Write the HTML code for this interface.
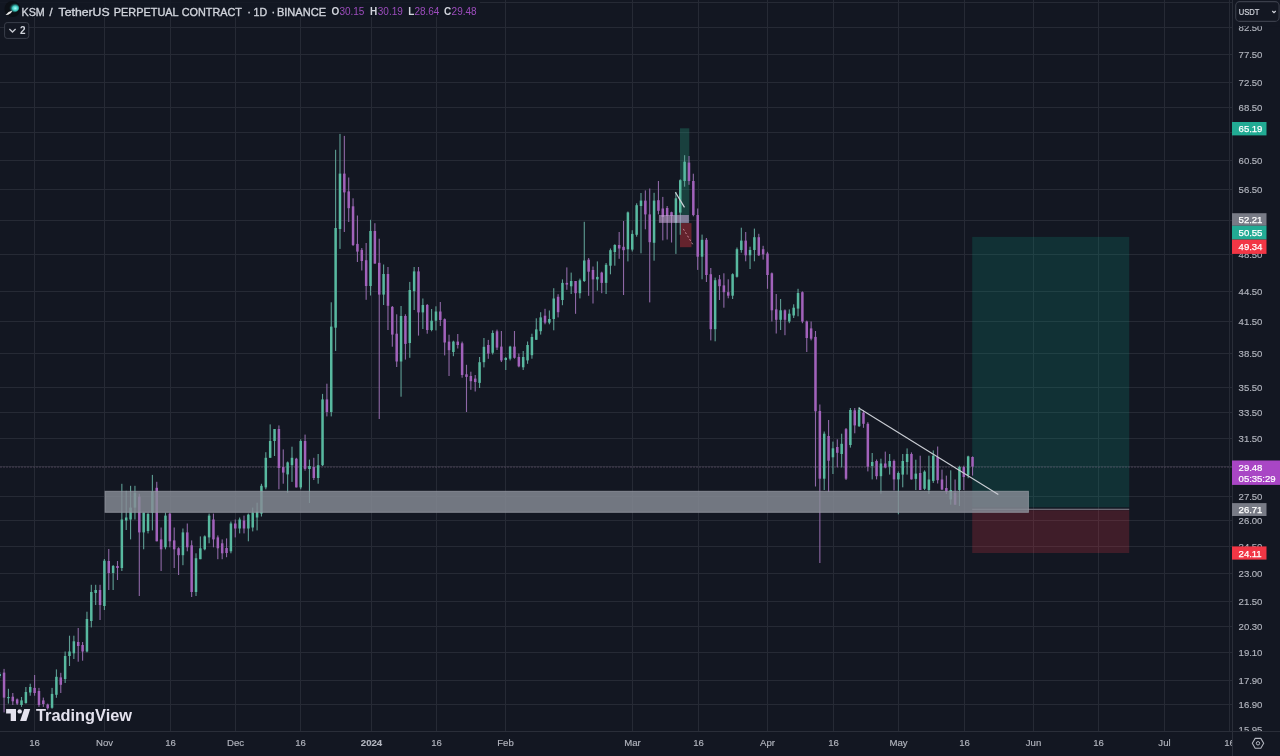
<!DOCTYPE html><html><head><meta charset="utf-8"><style>
html,body{margin:0;padding:0;background:#131722;width:1280px;height:756px;overflow:hidden}
svg{display:block}
text{font-family:"Liberation Sans",Arial,sans-serif}
</style></head><body>
<svg width="1280" height="756" viewBox="0 0 1280 756">
<rect width="1280" height="756" fill="#131722"/>
<g stroke="#262a35" stroke-width="1" shape-rendering="crispEdges">
<line x1="0" y1="2.5" x2="1232" y2="2.5"/>
<line x1="0" y1="27.5" x2="1232" y2="27.5"/>
<line x1="0" y1="54.5" x2="1232" y2="54.5"/>
<line x1="0" y1="82.5" x2="1232" y2="82.5"/>
<line x1="0" y1="107.5" x2="1232" y2="107.5"/>
<line x1="0" y1="132.5" x2="1232" y2="132.5"/>
<line x1="0" y1="160.5" x2="1232" y2="160.5"/>
<line x1="0" y1="189.5" x2="1232" y2="189.5"/>
<line x1="0" y1="220.5" x2="1232" y2="220.5"/>
<line x1="0" y1="254.5" x2="1232" y2="254.5"/>
<line x1="0" y1="291.5" x2="1232" y2="291.5"/>
<line x1="0" y1="321.5" x2="1232" y2="321.5"/>
<line x1="0" y1="353.5" x2="1232" y2="353.5"/>
<line x1="0" y1="387.5" x2="1232" y2="387.5"/>
<line x1="0" y1="412.5" x2="1232" y2="412.5"/>
<line x1="0" y1="438.5" x2="1232" y2="438.5"/>
<line x1="0" y1="466.5" x2="1232" y2="466.5"/>
<line x1="0" y1="496.5" x2="1232" y2="496.5"/>
<line x1="0" y1="520.5" x2="1232" y2="520.5"/>
<line x1="0" y1="546.5" x2="1232" y2="546.5"/>
<line x1="0" y1="573.5" x2="1232" y2="573.5"/>
<line x1="0" y1="601.5" x2="1232" y2="601.5"/>
<line x1="0" y1="626.5" x2="1232" y2="626.5"/>
<line x1="0" y1="652.5" x2="1232" y2="652.5"/>
<line x1="0" y1="680.5" x2="1232" y2="680.5"/>
<line x1="0" y1="704.5" x2="1232" y2="704.5"/>
<line x1="34.5" y1="0" x2="34.5" y2="731"/>
<line x1="104.5" y1="0" x2="104.5" y2="731"/>
<line x1="170.5" y1="0" x2="170.5" y2="731"/>
<line x1="235.5" y1="0" x2="235.5" y2="731"/>
<line x1="300.5" y1="0" x2="300.5" y2="731"/>
<line x1="371.5" y1="0" x2="371.5" y2="731"/>
<line x1="436.5" y1="0" x2="436.5" y2="731"/>
<line x1="505.5" y1="0" x2="505.5" y2="731"/>
<line x1="632.5" y1="0" x2="632.5" y2="731"/>
<line x1="698.5" y1="0" x2="698.5" y2="731"/>
<line x1="767.5" y1="0" x2="767.5" y2="731"/>
<line x1="833.5" y1="0" x2="833.5" y2="731"/>
<line x1="898.5" y1="0" x2="898.5" y2="731"/>
<line x1="964.5" y1="0" x2="964.5" y2="731"/>
<line x1="1033.5" y1="0" x2="1033.5" y2="731"/>
<line x1="1098.5" y1="0" x2="1098.5" y2="731"/>
<line x1="1164.5" y1="0" x2="1164.5" y2="731"/>
<line x1="1229.5" y1="0" x2="1229.5" y2="731"/>
</g>
<rect x="972.2" y="236.9" width="157.0" height="270.4" fill="rgba(8,153,129,0.2)"/>
<rect x="972.2" y="510.2" width="157.0" height="42.8" fill="rgba(242,54,69,0.2)"/>
<rect x="972.2" y="508.7" width="157.0" height="1.3" fill="#6c6874"/>
<rect x="680" y="128.3" width="9.3" height="94.8" fill="rgba(40,160,130,0.3)"/>
<rect x="680" y="223.1" width="11.5" height="24.1" fill="rgba(200,50,60,0.45)"/>
<line x1="0" y1="467.1" x2="1232" y2="467.1" stroke="#8a7090" stroke-width="1" stroke-dasharray="2 1" opacity="0.4"/>
<g>
<rect x="-0.85" y="672.0" width="1.1" height="6.0" fill="#5e9e94"/>
<rect x="-1.55" y="674.0" width="2.5" height="2.0" fill="#58b9a0"/>
<rect x="3.51" y="668.9" width="1.1" height="43.5" fill="#8e68a6"/>
<rect x="2.81" y="672.6" width="2.5" height="25.0" fill="#a262bb"/>
<rect x="7.88" y="688.8" width="1.1" height="14.8" fill="#5e9e94"/>
<rect x="7.18" y="697.0" width="2.5" height="1.2" fill="#58b9a0"/>
<rect x="12.24" y="693.0" width="1.1" height="12.0" fill="#8e68a6"/>
<rect x="11.54" y="696.7" width="2.5" height="4.6" fill="#a262bb"/>
<rect x="16.60" y="698.5" width="1.1" height="6.5" fill="#8e68a6"/>
<rect x="15.90" y="699.4" width="2.5" height="4.2" fill="#a262bb"/>
<rect x="20.96" y="697.0" width="1.1" height="9.9" fill="#5e9e94"/>
<rect x="20.26" y="700.4" width="2.5" height="4.6" fill="#58b9a0"/>
<rect x="25.32" y="687.0" width="1.1" height="16.6" fill="#5e9e94"/>
<rect x="24.62" y="692.0" width="2.5" height="11.1" fill="#58b9a0"/>
<rect x="29.69" y="683.7" width="1.1" height="12.0" fill="#5e9e94"/>
<rect x="28.99" y="687.0" width="2.5" height="5.5" fill="#58b9a0"/>
<rect x="34.05" y="675.0" width="1.1" height="20.7" fill="#8e68a6"/>
<rect x="33.35" y="687.9" width="2.5" height="5.1" fill="#a262bb"/>
<rect x="38.41" y="687.9" width="1.1" height="19.0" fill="#8e68a6"/>
<rect x="37.71" y="691.0" width="2.5" height="14.0" fill="#a262bb"/>
<rect x="42.78" y="697.6" width="1.1" height="9.3" fill="#8e68a6"/>
<rect x="42.08" y="700.4" width="2.5" height="3.6" fill="#a262bb"/>
<rect x="47.14" y="703.6" width="1.1" height="6.0" fill="#8e68a6"/>
<rect x="46.44" y="704.5" width="2.5" height="3.7" fill="#a262bb"/>
<rect x="51.50" y="687.9" width="1.1" height="20.8" fill="#5e9e94"/>
<rect x="50.80" y="693.9" width="2.5" height="13.9" fill="#58b9a0"/>
<rect x="55.86" y="669.4" width="1.1" height="28.4" fill="#5e9e94"/>
<rect x="55.16" y="676.8" width="2.5" height="18.0" fill="#58b9a0"/>
<rect x="60.23" y="672.8" width="1.1" height="20.2" fill="#8e68a6"/>
<rect x="59.52" y="677.4" width="2.5" height="7.4" fill="#a262bb"/>
<rect x="64.59" y="651.5" width="1.1" height="31.5" fill="#5e9e94"/>
<rect x="63.89" y="656.0" width="2.5" height="23.0" fill="#58b9a0"/>
<rect x="68.95" y="635.7" width="1.1" height="30.3" fill="#5e9e94"/>
<rect x="68.25" y="651.5" width="2.5" height="4.5" fill="#58b9a0"/>
<rect x="73.31" y="635.7" width="1.1" height="23.3" fill="#5e9e94"/>
<rect x="72.61" y="641.3" width="2.5" height="12.0" fill="#58b9a0"/>
<rect x="77.67" y="628.0" width="1.1" height="33.7" fill="#8e68a6"/>
<rect x="76.97" y="642.0" width="2.5" height="4.0" fill="#a262bb"/>
<rect x="82.04" y="642.0" width="1.1" height="18.7" fill="#8e68a6"/>
<rect x="81.34" y="645.0" width="2.5" height="6.5" fill="#a262bb"/>
<rect x="86.40" y="611.7" width="1.1" height="40.7" fill="#5e9e94"/>
<rect x="85.70" y="619.0" width="2.5" height="32.5" fill="#58b9a0"/>
<rect x="90.76" y="584.8" width="1.1" height="42.6" fill="#5e9e94"/>
<rect x="90.06" y="592.0" width="2.5" height="29.0" fill="#58b9a0"/>
<rect x="95.12" y="584.8" width="1.1" height="20.2" fill="#5e9e94"/>
<rect x="94.42" y="590.0" width="2.5" height="3.0" fill="#58b9a0"/>
<rect x="99.49" y="584.8" width="1.1" height="35.2" fill="#8e68a6"/>
<rect x="98.79" y="590.0" width="2.5" height="15.0" fill="#a262bb"/>
<rect x="103.85" y="559.0" width="1.1" height="51.0" fill="#5e9e94"/>
<rect x="103.15" y="560.7" width="2.5" height="45.3" fill="#58b9a0"/>
<rect x="108.21" y="549.0" width="1.1" height="41.0" fill="#8e68a6"/>
<rect x="107.51" y="561.0" width="2.5" height="12.0" fill="#a262bb"/>
<rect x="112.58" y="565.0" width="1.1" height="25.0" fill="#5e9e94"/>
<rect x="111.88" y="566.0" width="2.5" height="7.0" fill="#58b9a0"/>
<rect x="116.94" y="561.0" width="1.1" height="19.0" fill="#8e68a6"/>
<rect x="116.24" y="566.0" width="2.5" height="2.0" fill="#a262bb"/>
<rect x="121.30" y="483.8" width="1.1" height="87.2" fill="#5e9e94"/>
<rect x="120.60" y="519.5" width="2.5" height="48.5" fill="#58b9a0"/>
<rect x="125.66" y="490.8" width="1.1" height="39.2" fill="#5e9e94"/>
<rect x="124.96" y="517.5" width="2.5" height="3.0" fill="#58b9a0"/>
<rect x="130.02" y="485.8" width="1.1" height="53.6" fill="#5e9e94"/>
<rect x="129.32" y="507.6" width="2.5" height="11.9" fill="#58b9a0"/>
<rect x="134.39" y="485.8" width="1.1" height="33.7" fill="#5e9e94"/>
<rect x="133.69" y="492.7" width="2.5" height="14.9" fill="#58b9a0"/>
<rect x="138.75" y="493.7" width="1.1" height="102.3" fill="#8e68a6"/>
<rect x="138.05" y="496.7" width="2.5" height="35.7" fill="#a262bb"/>
<rect x="143.11" y="512.6" width="1.1" height="36.7" fill="#5e9e94"/>
<rect x="142.41" y="512.6" width="2.5" height="19.8" fill="#58b9a0"/>
<rect x="147.47" y="512.6" width="1.1" height="20.8" fill="#5e9e94"/>
<rect x="146.78" y="514.0" width="2.5" height="17.0" fill="#58b9a0"/>
<rect x="151.84" y="474.9" width="1.1" height="55.5" fill="#5e9e94"/>
<rect x="151.14" y="491.7" width="2.5" height="20.9" fill="#58b9a0"/>
<rect x="156.20" y="481.8" width="1.1" height="59.5" fill="#8e68a6"/>
<rect x="155.50" y="487.8" width="2.5" height="53.5" fill="#a262bb"/>
<rect x="160.56" y="527.5" width="1.1" height="43.5" fill="#8e68a6"/>
<rect x="159.86" y="539.4" width="2.5" height="9.9" fill="#a262bb"/>
<rect x="164.92" y="512.6" width="1.1" height="36.7" fill="#5e9e94"/>
<rect x="164.22" y="515.6" width="2.5" height="31.7" fill="#58b9a0"/>
<rect x="169.29" y="512.6" width="1.1" height="34.7" fill="#8e68a6"/>
<rect x="168.59" y="513.6" width="2.5" height="27.7" fill="#a262bb"/>
<rect x="173.65" y="527.5" width="1.1" height="40.5" fill="#8e68a6"/>
<rect x="172.95" y="540.4" width="2.5" height="8.9" fill="#a262bb"/>
<rect x="178.01" y="547.3" width="1.1" height="27.7" fill="#8e68a6"/>
<rect x="177.31" y="548.3" width="2.5" height="6.9" fill="#a262bb"/>
<rect x="182.37" y="528.5" width="1.1" height="36.7" fill="#5e9e94"/>
<rect x="181.67" y="532.4" width="2.5" height="22.8" fill="#58b9a0"/>
<rect x="186.74" y="523.5" width="1.1" height="27.8" fill="#8e68a6"/>
<rect x="186.04" y="532.4" width="2.5" height="14.9" fill="#a262bb"/>
<rect x="191.10" y="540.4" width="1.1" height="56.6" fill="#8e68a6"/>
<rect x="190.40" y="545.3" width="2.5" height="46.7" fill="#a262bb"/>
<rect x="195.46" y="553.3" width="1.1" height="42.7" fill="#5e9e94"/>
<rect x="194.76" y="558.2" width="2.5" height="33.8" fill="#58b9a0"/>
<rect x="199.82" y="536.4" width="1.1" height="22.8" fill="#5e9e94"/>
<rect x="199.12" y="548.3" width="2.5" height="10.9" fill="#58b9a0"/>
<rect x="204.19" y="535.4" width="1.1" height="14.9" fill="#5e9e94"/>
<rect x="203.49" y="536.4" width="2.5" height="12.9" fill="#58b9a0"/>
<rect x="208.55" y="513.6" width="1.1" height="29.7" fill="#5e9e94"/>
<rect x="207.85" y="515.6" width="2.5" height="21.8" fill="#58b9a0"/>
<rect x="212.91" y="513.6" width="1.1" height="33.7" fill="#8e68a6"/>
<rect x="212.21" y="519.5" width="2.5" height="19.9" fill="#a262bb"/>
<rect x="217.27" y="535.4" width="1.1" height="23.8" fill="#8e68a6"/>
<rect x="216.57" y="537.4" width="2.5" height="10.9" fill="#a262bb"/>
<rect x="221.64" y="539.4" width="1.1" height="19.8" fill="#8e68a6"/>
<rect x="220.94" y="543.3" width="2.5" height="10.0" fill="#a262bb"/>
<rect x="226.00" y="538.4" width="1.1" height="18.8" fill="#8e68a6"/>
<rect x="225.30" y="548.0" width="2.5" height="5.0" fill="#a262bb"/>
<rect x="230.36" y="521.5" width="1.1" height="31.8" fill="#5e9e94"/>
<rect x="229.66" y="523.5" width="2.5" height="27.8" fill="#58b9a0"/>
<rect x="234.72" y="519.5" width="1.1" height="17.9" fill="#8e68a6"/>
<rect x="234.02" y="523.5" width="2.5" height="5.0" fill="#a262bb"/>
<rect x="239.09" y="517.5" width="1.1" height="15.9" fill="#5e9e94"/>
<rect x="238.39" y="519.5" width="2.5" height="9.0" fill="#58b9a0"/>
<rect x="243.45" y="515.6" width="1.1" height="17.8" fill="#8e68a6"/>
<rect x="242.75" y="520.5" width="2.5" height="8.0" fill="#a262bb"/>
<rect x="247.81" y="513.6" width="1.1" height="27.7" fill="#5e9e94"/>
<rect x="247.11" y="514.6" width="2.5" height="13.9" fill="#58b9a0"/>
<rect x="252.17" y="507.6" width="1.1" height="23.8" fill="#5e9e94"/>
<rect x="251.47" y="512.6" width="2.5" height="14.9" fill="#58b9a0"/>
<rect x="256.54" y="502.7" width="1.1" height="27.7" fill="#5e9e94"/>
<rect x="255.84" y="511.6" width="2.5" height="5.9" fill="#58b9a0"/>
<rect x="260.90" y="483.8" width="1.1" height="32.7" fill="#5e9e94"/>
<rect x="260.20" y="485.8" width="2.5" height="27.8" fill="#58b9a0"/>
<rect x="265.26" y="452.2" width="1.1" height="37.1" fill="#5e9e94"/>
<rect x="264.56" y="457.8" width="2.5" height="29.6" fill="#58b9a0"/>
<rect x="269.62" y="424.4" width="1.1" height="33.4" fill="#5e9e94"/>
<rect x="268.93" y="441.0" width="2.5" height="16.8" fill="#58b9a0"/>
<rect x="273.99" y="429.0" width="1.1" height="27.0" fill="#5e9e94"/>
<rect x="273.29" y="429.0" width="2.5" height="12.0" fill="#58b9a0"/>
<rect x="278.35" y="425.4" width="1.1" height="63.9" fill="#8e68a6"/>
<rect x="277.65" y="429.0" width="2.5" height="39.0" fill="#a262bb"/>
<rect x="282.71" y="449.4" width="1.1" height="34.3" fill="#8e68a6"/>
<rect x="282.01" y="467.0" width="2.5" height="5.6" fill="#a262bb"/>
<rect x="287.07" y="461.5" width="1.1" height="31.5" fill="#5e9e94"/>
<rect x="286.38" y="462.4" width="2.5" height="12.0" fill="#58b9a0"/>
<rect x="291.44" y="446.7" width="1.1" height="35.2" fill="#5e9e94"/>
<rect x="290.74" y="457.8" width="2.5" height="7.4" fill="#58b9a0"/>
<rect x="295.80" y="457.8" width="1.1" height="29.6" fill="#8e68a6"/>
<rect x="295.10" y="458.7" width="2.5" height="28.7" fill="#a262bb"/>
<rect x="300.16" y="439.3" width="1.1" height="50.0" fill="#5e9e94"/>
<rect x="299.46" y="441.0" width="2.5" height="46.4" fill="#58b9a0"/>
<rect x="304.52" y="434.6" width="1.1" height="36.1" fill="#8e68a6"/>
<rect x="303.82" y="441.0" width="2.5" height="27.9" fill="#a262bb"/>
<rect x="308.89" y="459.6" width="1.1" height="43.4" fill="#5e9e94"/>
<rect x="308.19" y="466.0" width="2.5" height="3.0" fill="#58b9a0"/>
<rect x="313.25" y="457.8" width="1.1" height="22.2" fill="#8e68a6"/>
<rect x="312.55" y="467.0" width="2.5" height="11.0" fill="#a262bb"/>
<rect x="317.61" y="454.0" width="1.1" height="29.7" fill="#5e9e94"/>
<rect x="316.91" y="465.2" width="2.5" height="12.8" fill="#58b9a0"/>
<rect x="321.98" y="393.9" width="1.1" height="72.1" fill="#5e9e94"/>
<rect x="321.28" y="399.4" width="2.5" height="65.8" fill="#58b9a0"/>
<rect x="326.34" y="383.7" width="1.1" height="32.7" fill="#8e68a6"/>
<rect x="325.64" y="399.4" width="2.5" height="12.6" fill="#a262bb"/>
<rect x="330.70" y="302.3" width="1.1" height="114.1" fill="#5e9e94"/>
<rect x="330.00" y="326.6" width="2.5" height="85.4" fill="#58b9a0"/>
<rect x="335.06" y="149.8" width="1.1" height="201.2" fill="#5e9e94"/>
<rect x="334.36" y="228.0" width="2.5" height="99.7" fill="#58b9a0"/>
<rect x="339.43" y="133.9" width="1.1" height="115.0" fill="#5e9e94"/>
<rect x="338.73" y="173.6" width="2.5" height="55.4" fill="#58b9a0"/>
<rect x="343.79" y="135.9" width="1.1" height="96.1" fill="#8e68a6"/>
<rect x="343.09" y="173.6" width="2.5" height="18.8" fill="#a262bb"/>
<rect x="348.15" y="177.5" width="1.1" height="44.5" fill="#8e68a6"/>
<rect x="347.45" y="191.4" width="2.5" height="16.8" fill="#a262bb"/>
<rect x="352.51" y="198.3" width="1.1" height="47.7" fill="#8e68a6"/>
<rect x="351.81" y="206.3" width="2.5" height="38.7" fill="#a262bb"/>
<rect x="356.88" y="215.5" width="1.1" height="46.5" fill="#8e68a6"/>
<rect x="356.18" y="243.9" width="2.5" height="7.7" fill="#a262bb"/>
<rect x="361.24" y="248.0" width="1.1" height="22.5" fill="#8e68a6"/>
<rect x="360.54" y="249.9" width="2.5" height="11.1" fill="#a262bb"/>
<rect x="365.60" y="243.0" width="1.1" height="56.8" fill="#8e68a6"/>
<rect x="364.90" y="260.2" width="2.5" height="25.8" fill="#a262bb"/>
<rect x="369.96" y="219.8" width="1.1" height="75.7" fill="#5e9e94"/>
<rect x="369.26" y="231.0" width="2.5" height="55.0" fill="#58b9a0"/>
<rect x="374.32" y="223.2" width="1.1" height="40.4" fill="#8e68a6"/>
<rect x="373.62" y="231.0" width="2.5" height="32.6" fill="#a262bb"/>
<rect x="378.69" y="238.7" width="1.1" height="180.3" fill="#8e68a6"/>
<rect x="377.99" y="262.8" width="2.5" height="31.8" fill="#a262bb"/>
<rect x="383.05" y="264.5" width="1.1" height="40.5" fill="#5e9e94"/>
<rect x="382.35" y="274.0" width="2.5" height="20.6" fill="#58b9a0"/>
<rect x="387.41" y="267.0" width="1.1" height="63.0" fill="#8e68a6"/>
<rect x="386.71" y="274.0" width="2.5" height="31.8" fill="#a262bb"/>
<rect x="391.77" y="306.0" width="1.1" height="40.7" fill="#8e68a6"/>
<rect x="391.07" y="306.9" width="2.5" height="27.7" fill="#a262bb"/>
<rect x="396.14" y="314.3" width="1.1" height="52.7" fill="#8e68a6"/>
<rect x="395.44" y="333.7" width="2.5" height="27.8" fill="#a262bb"/>
<rect x="400.50" y="306.0" width="1.1" height="90.7" fill="#5e9e94"/>
<rect x="399.80" y="316.0" width="2.5" height="45.5" fill="#58b9a0"/>
<rect x="404.86" y="314.3" width="1.1" height="45.3" fill="#8e68a6"/>
<rect x="404.16" y="316.0" width="2.5" height="27.9" fill="#a262bb"/>
<rect x="409.23" y="281.9" width="1.1" height="75.9" fill="#5e9e94"/>
<rect x="408.53" y="290.0" width="2.5" height="53.0" fill="#58b9a0"/>
<rect x="413.59" y="267.0" width="1.1" height="43.0" fill="#5e9e94"/>
<rect x="412.89" y="271.4" width="2.5" height="19.8" fill="#58b9a0"/>
<rect x="417.95" y="267.0" width="1.1" height="68.6" fill="#8e68a6"/>
<rect x="417.25" y="271.4" width="2.5" height="41.0" fill="#a262bb"/>
<rect x="422.31" y="298.5" width="1.1" height="30.5" fill="#5e9e94"/>
<rect x="421.61" y="305.0" width="2.5" height="7.4" fill="#58b9a0"/>
<rect x="426.68" y="304.0" width="1.1" height="29.7" fill="#8e68a6"/>
<rect x="425.98" y="305.0" width="2.5" height="25.0" fill="#a262bb"/>
<rect x="431.04" y="309.0" width="1.1" height="22.3" fill="#5e9e94"/>
<rect x="430.34" y="320.7" width="2.5" height="9.3" fill="#58b9a0"/>
<rect x="435.40" y="306.3" width="1.1" height="24.1" fill="#5e9e94"/>
<rect x="434.70" y="311.5" width="2.5" height="9.2" fill="#58b9a0"/>
<rect x="439.76" y="302.0" width="1.1" height="24.0" fill="#8e68a6"/>
<rect x="439.06" y="311.5" width="2.5" height="8.5" fill="#a262bb"/>
<rect x="444.12" y="318.4" width="1.1" height="37.0" fill="#8e68a6"/>
<rect x="443.43" y="319.2" width="2.5" height="23.3" fill="#a262bb"/>
<rect x="448.49" y="334.7" width="1.1" height="41.3" fill="#8e68a6"/>
<rect x="447.79" y="341.6" width="2.5" height="8.6" fill="#a262bb"/>
<rect x="452.85" y="340.7" width="1.1" height="15.5" fill="#5e9e94"/>
<rect x="452.15" y="341.6" width="2.5" height="10.4" fill="#58b9a0"/>
<rect x="457.21" y="334.0" width="1.1" height="14.5" fill="#8e68a6"/>
<rect x="456.51" y="341.6" width="2.5" height="3.4" fill="#a262bb"/>
<rect x="461.57" y="341.6" width="1.1" height="36.1" fill="#8e68a6"/>
<rect x="460.88" y="343.3" width="2.5" height="31.7" fill="#a262bb"/>
<rect x="465.94" y="364.8" width="1.1" height="47.2" fill="#8e68a6"/>
<rect x="465.24" y="374.3" width="2.5" height="2.6" fill="#a262bb"/>
<rect x="470.30" y="371.7" width="1.1" height="18.1" fill="#8e68a6"/>
<rect x="469.60" y="376.0" width="2.5" height="5.2" fill="#a262bb"/>
<rect x="474.66" y="375.0" width="1.1" height="16.5" fill="#8e68a6"/>
<rect x="473.96" y="378.6" width="2.5" height="3.4" fill="#a262bb"/>
<rect x="479.02" y="357.0" width="1.1" height="31.0" fill="#5e9e94"/>
<rect x="478.32" y="362.2" width="2.5" height="20.7" fill="#58b9a0"/>
<rect x="483.39" y="338.0" width="1.1" height="29.4" fill="#5e9e94"/>
<rect x="482.69" y="346.8" width="2.5" height="15.4" fill="#58b9a0"/>
<rect x="487.75" y="339.9" width="1.1" height="18.9" fill="#8e68a6"/>
<rect x="487.05" y="345.0" width="2.5" height="8.6" fill="#a262bb"/>
<rect x="492.11" y="330.4" width="1.1" height="24.1" fill="#5e9e94"/>
<rect x="491.41" y="333.0" width="2.5" height="19.8" fill="#58b9a0"/>
<rect x="496.47" y="329.6" width="1.1" height="20.4" fill="#8e68a6"/>
<rect x="495.77" y="331.3" width="2.5" height="16.3" fill="#a262bb"/>
<rect x="500.84" y="331.0" width="1.1" height="31.0" fill="#8e68a6"/>
<rect x="500.14" y="346.6" width="2.5" height="13.8" fill="#a262bb"/>
<rect x="505.20" y="357.0" width="1.1" height="13.0" fill="#5e9e94"/>
<rect x="504.50" y="358.0" width="2.5" height="2.0" fill="#58b9a0"/>
<rect x="509.56" y="345.8" width="1.1" height="14.6" fill="#5e9e94"/>
<rect x="508.86" y="346.6" width="2.5" height="12.1" fill="#58b9a0"/>
<rect x="513.93" y="331.0" width="1.1" height="27.7" fill="#8e68a6"/>
<rect x="513.23" y="346.6" width="2.5" height="11.2" fill="#a262bb"/>
<rect x="518.29" y="353.5" width="1.1" height="13.8" fill="#8e68a6"/>
<rect x="517.59" y="357.0" width="2.5" height="9.4" fill="#a262bb"/>
<rect x="522.65" y="351.0" width="1.1" height="19.0" fill="#5e9e94"/>
<rect x="521.95" y="357.0" width="2.5" height="10.3" fill="#58b9a0"/>
<rect x="527.01" y="341.5" width="1.1" height="22.3" fill="#5e9e94"/>
<rect x="526.31" y="345.0" width="2.5" height="15.4" fill="#58b9a0"/>
<rect x="531.38" y="333.7" width="1.1" height="25.0" fill="#5e9e94"/>
<rect x="530.67" y="337.0" width="2.5" height="18.2" fill="#58b9a0"/>
<rect x="535.74" y="318.3" width="1.1" height="21.5" fill="#5e9e94"/>
<rect x="535.04" y="329.4" width="2.5" height="10.4" fill="#58b9a0"/>
<rect x="540.10" y="312.2" width="1.1" height="22.4" fill="#5e9e94"/>
<rect x="539.40" y="317.4" width="2.5" height="13.8" fill="#58b9a0"/>
<rect x="544.46" y="308.8" width="1.1" height="15.5" fill="#8e68a6"/>
<rect x="543.76" y="315.7" width="2.5" height="6.9" fill="#a262bb"/>
<rect x="548.83" y="310.5" width="1.1" height="13.8" fill="#5e9e94"/>
<rect x="548.12" y="319.0" width="2.5" height="3.6" fill="#58b9a0"/>
<rect x="553.19" y="288.2" width="1.1" height="42.1" fill="#5e9e94"/>
<rect x="552.49" y="298.5" width="2.5" height="20.5" fill="#58b9a0"/>
<rect x="557.55" y="294.2" width="1.1" height="23.2" fill="#8e68a6"/>
<rect x="556.85" y="296.8" width="2.5" height="15.4" fill="#a262bb"/>
<rect x="561.91" y="279.4" width="1.1" height="25.8" fill="#5e9e94"/>
<rect x="561.21" y="282.9" width="2.5" height="17.1" fill="#58b9a0"/>
<rect x="566.28" y="267.4" width="1.1" height="22.4" fill="#8e68a6"/>
<rect x="565.58" y="282.9" width="2.5" height="1.7" fill="#a262bb"/>
<rect x="570.64" y="272.6" width="1.1" height="21.4" fill="#5e9e94"/>
<rect x="569.94" y="281.0" width="2.5" height="5.3" fill="#58b9a0"/>
<rect x="575.00" y="281.0" width="1.1" height="32.8" fill="#8e68a6"/>
<rect x="574.30" y="281.0" width="2.5" height="12.2" fill="#a262bb"/>
<rect x="579.36" y="278.6" width="1.1" height="19.8" fill="#5e9e94"/>
<rect x="578.66" y="280.3" width="2.5" height="12.9" fill="#58b9a0"/>
<rect x="583.73" y="221.8" width="1.1" height="60.2" fill="#5e9e94"/>
<rect x="583.02" y="260.5" width="2.5" height="20.5" fill="#58b9a0"/>
<rect x="588.09" y="258.0" width="1.1" height="37.8" fill="#8e68a6"/>
<rect x="587.39" y="259.7" width="2.5" height="12.0" fill="#a262bb"/>
<rect x="592.45" y="266.5" width="1.1" height="37.0" fill="#8e68a6"/>
<rect x="591.75" y="270.0" width="2.5" height="9.4" fill="#a262bb"/>
<rect x="596.81" y="261.4" width="1.1" height="29.2" fill="#5e9e94"/>
<rect x="596.11" y="276.9" width="2.5" height="2.5" fill="#58b9a0"/>
<rect x="601.18" y="271.7" width="1.1" height="21.5" fill="#8e68a6"/>
<rect x="600.48" y="272.6" width="2.5" height="10.3" fill="#a262bb"/>
<rect x="605.54" y="263.0" width="1.1" height="31.0" fill="#5e9e94"/>
<rect x="604.84" y="264.8" width="2.5" height="18.1" fill="#58b9a0"/>
<rect x="609.90" y="248.5" width="1.1" height="25.8" fill="#5e9e94"/>
<rect x="609.20" y="250.2" width="2.5" height="15.5" fill="#58b9a0"/>
<rect x="614.26" y="244.2" width="1.1" height="21.5" fill="#5e9e94"/>
<rect x="613.56" y="245.0" width="2.5" height="7.0" fill="#58b9a0"/>
<rect x="618.62" y="232.0" width="1.1" height="26.8" fill="#8e68a6"/>
<rect x="617.92" y="245.0" width="2.5" height="3.5" fill="#a262bb"/>
<rect x="622.99" y="221.0" width="1.1" height="74.0" fill="#8e68a6"/>
<rect x="622.29" y="246.8" width="2.5" height="3.4" fill="#a262bb"/>
<rect x="627.35" y="211.5" width="1.1" height="49.9" fill="#5e9e94"/>
<rect x="626.65" y="212.4" width="2.5" height="36.9" fill="#58b9a0"/>
<rect x="631.71" y="230.2" width="1.1" height="21.3" fill="#5e9e94"/>
<rect x="631.01" y="233.9" width="2.5" height="15.7" fill="#58b9a0"/>
<rect x="636.08" y="203.3" width="1.1" height="33.4" fill="#5e9e94"/>
<rect x="635.38" y="205.2" width="2.5" height="29.6" fill="#58b9a0"/>
<rect x="640.44" y="193.0" width="1.1" height="60.3" fill="#5e9e94"/>
<rect x="639.74" y="200.6" width="2.5" height="5.4" fill="#58b9a0"/>
<rect x="644.80" y="190.4" width="1.1" height="38.9" fill="#8e68a6"/>
<rect x="644.10" y="200.6" width="2.5" height="13.8" fill="#a262bb"/>
<rect x="649.16" y="188.5" width="1.1" height="113.9" fill="#8e68a6"/>
<rect x="648.46" y="214.4" width="2.5" height="27.8" fill="#a262bb"/>
<rect x="653.53" y="192.8" width="1.1" height="67.9" fill="#5e9e94"/>
<rect x="652.83" y="200.6" width="2.5" height="42.2" fill="#58b9a0"/>
<rect x="657.89" y="181.0" width="1.1" height="33.4" fill="#8e68a6"/>
<rect x="657.19" y="200.2" width="2.5" height="10.6" fill="#a262bb"/>
<rect x="662.25" y="196.9" width="1.1" height="43.5" fill="#8e68a6"/>
<rect x="661.55" y="208.5" width="2.5" height="8.4" fill="#a262bb"/>
<rect x="666.61" y="206.0" width="1.1" height="33.5" fill="#8e68a6"/>
<rect x="665.91" y="208.0" width="2.5" height="8.0" fill="#a262bb"/>
<rect x="670.98" y="211.7" width="1.1" height="30.8" fill="#8e68a6"/>
<rect x="670.27" y="212.2" width="2.5" height="3.8" fill="#a262bb"/>
<rect x="675.34" y="191.9" width="1.1" height="62.0" fill="#5e9e94"/>
<rect x="674.64" y="198.3" width="2.5" height="24.6" fill="#58b9a0"/>
<rect x="679.70" y="179.3" width="1.1" height="55.5" fill="#5e9e94"/>
<rect x="679.00" y="180.2" width="2.5" height="32.4" fill="#58b9a0"/>
<rect x="684.06" y="155.2" width="1.1" height="31.5" fill="#5e9e94"/>
<rect x="683.36" y="161.7" width="2.5" height="19.3" fill="#58b9a0"/>
<rect x="688.43" y="156.0" width="1.1" height="28.8" fill="#8e68a6"/>
<rect x="687.73" y="162.6" width="2.5" height="18.4" fill="#a262bb"/>
<rect x="692.79" y="173.7" width="1.1" height="42.6" fill="#8e68a6"/>
<rect x="692.09" y="181.0" width="2.5" height="34.0" fill="#a262bb"/>
<rect x="697.15" y="208.5" width="1.1" height="61.4" fill="#8e68a6"/>
<rect x="696.45" y="215.0" width="2.5" height="41.7" fill="#a262bb"/>
<rect x="701.51" y="234.6" width="1.1" height="44.7" fill="#5e9e94"/>
<rect x="700.81" y="239.8" width="2.5" height="16.9" fill="#58b9a0"/>
<rect x="705.88" y="238.0" width="1.1" height="44.0" fill="#8e68a6"/>
<rect x="705.17" y="239.8" width="2.5" height="35.2" fill="#a262bb"/>
<rect x="710.24" y="268.0" width="1.1" height="72.4" fill="#8e68a6"/>
<rect x="709.54" y="274.2" width="2.5" height="55.0" fill="#a262bb"/>
<rect x="714.60" y="277.6" width="1.1" height="63.7" fill="#5e9e94"/>
<rect x="713.90" y="280.2" width="2.5" height="49.0" fill="#58b9a0"/>
<rect x="718.96" y="275.0" width="1.1" height="25.0" fill="#8e68a6"/>
<rect x="718.26" y="279.3" width="2.5" height="6.9" fill="#a262bb"/>
<rect x="723.33" y="273.3" width="1.1" height="34.4" fill="#8e68a6"/>
<rect x="722.62" y="285.4" width="2.5" height="6.8" fill="#a262bb"/>
<rect x="727.69" y="279.3" width="1.1" height="19.0" fill="#8e68a6"/>
<rect x="726.99" y="292.2" width="2.5" height="3.5" fill="#a262bb"/>
<rect x="732.05" y="273.3" width="1.1" height="25.7" fill="#5e9e94"/>
<rect x="731.35" y="274.2" width="2.5" height="21.5" fill="#58b9a0"/>
<rect x="736.41" y="247.5" width="1.1" height="30.1" fill="#5e9e94"/>
<rect x="735.71" y="249.2" width="2.5" height="27.6" fill="#58b9a0"/>
<rect x="740.78" y="227.7" width="1.1" height="25.0" fill="#5e9e94"/>
<rect x="740.08" y="240.6" width="2.5" height="9.4" fill="#58b9a0"/>
<rect x="745.14" y="232.0" width="1.1" height="29.3" fill="#8e68a6"/>
<rect x="744.44" y="240.6" width="2.5" height="14.7" fill="#a262bb"/>
<rect x="749.50" y="246.7" width="1.1" height="22.3" fill="#5e9e94"/>
<rect x="748.80" y="250.0" width="2.5" height="5.3" fill="#58b9a0"/>
<rect x="753.86" y="228.6" width="1.1" height="32.7" fill="#5e9e94"/>
<rect x="753.16" y="237.2" width="2.5" height="12.8" fill="#58b9a0"/>
<rect x="758.23" y="233.8" width="1.1" height="22.2" fill="#8e68a6"/>
<rect x="757.52" y="237.2" width="2.5" height="18.1" fill="#a262bb"/>
<rect x="762.59" y="245.8" width="1.1" height="13.8" fill="#8e68a6"/>
<rect x="761.89" y="249.2" width="2.5" height="5.2" fill="#a262bb"/>
<rect x="766.95" y="251.8" width="1.1" height="37.0" fill="#8e68a6"/>
<rect x="766.25" y="253.5" width="2.5" height="21.5" fill="#a262bb"/>
<rect x="771.31" y="272.5" width="1.1" height="49.0" fill="#8e68a6"/>
<rect x="770.61" y="273.3" width="2.5" height="37.0" fill="#a262bb"/>
<rect x="775.68" y="294.0" width="1.1" height="39.5" fill="#8e68a6"/>
<rect x="774.98" y="309.4" width="2.5" height="10.4" fill="#a262bb"/>
<rect x="780.04" y="299.0" width="1.1" height="31.0" fill="#5e9e94"/>
<rect x="779.34" y="310.3" width="2.5" height="9.5" fill="#58b9a0"/>
<rect x="784.40" y="309.4" width="1.1" height="25.8" fill="#8e68a6"/>
<rect x="783.70" y="310.3" width="2.5" height="9.5" fill="#a262bb"/>
<rect x="788.76" y="309.4" width="1.1" height="13.8" fill="#5e9e94"/>
<rect x="788.06" y="313.7" width="2.5" height="7.8" fill="#58b9a0"/>
<rect x="793.12" y="304.3" width="1.1" height="13.7" fill="#5e9e94"/>
<rect x="792.42" y="307.7" width="2.5" height="7.8" fill="#58b9a0"/>
<rect x="797.49" y="288.8" width="1.1" height="27.5" fill="#5e9e94"/>
<rect x="796.79" y="293.0" width="2.5" height="15.6" fill="#58b9a0"/>
<rect x="801.85" y="291.4" width="1.1" height="31.8" fill="#8e68a6"/>
<rect x="801.15" y="292.2" width="2.5" height="29.3" fill="#a262bb"/>
<rect x="806.21" y="320.6" width="1.1" height="31.4" fill="#8e68a6"/>
<rect x="805.51" y="321.5" width="2.5" height="16.5" fill="#a262bb"/>
<rect x="810.58" y="321.5" width="1.1" height="18.9" fill="#8e68a6"/>
<rect x="809.88" y="328.4" width="2.5" height="10.3" fill="#a262bb"/>
<rect x="814.94" y="331.0" width="1.1" height="155.5" fill="#8e68a6"/>
<rect x="814.24" y="336.9" width="2.5" height="74.4" fill="#a262bb"/>
<rect x="819.30" y="404.5" width="1.1" height="158.5" fill="#8e68a6"/>
<rect x="818.60" y="411.0" width="2.5" height="67.7" fill="#a262bb"/>
<rect x="823.66" y="431.5" width="1.1" height="58.5" fill="#5e9e94"/>
<rect x="822.96" y="433.7" width="2.5" height="45.0" fill="#58b9a0"/>
<rect x="828.03" y="420.0" width="1.1" height="72.0" fill="#8e68a6"/>
<rect x="827.33" y="436.0" width="2.5" height="24.7" fill="#a262bb"/>
<rect x="832.39" y="441.6" width="1.1" height="32.4" fill="#5e9e94"/>
<rect x="831.69" y="448.3" width="2.5" height="9.0" fill="#58b9a0"/>
<rect x="836.75" y="439.3" width="1.1" height="28.1" fill="#8e68a6"/>
<rect x="836.05" y="447.0" width="2.5" height="5.8" fill="#a262bb"/>
<rect x="841.11" y="433.7" width="1.1" height="33.7" fill="#5e9e94"/>
<rect x="840.41" y="443.8" width="2.5" height="10.2" fill="#58b9a0"/>
<rect x="845.48" y="428.0" width="1.1" height="52.0" fill="#8e68a6"/>
<rect x="844.77" y="429.2" width="2.5" height="49.5" fill="#a262bb"/>
<rect x="849.84" y="408.0" width="1.1" height="39.6" fill="#5e9e94"/>
<rect x="849.14" y="410.0" width="2.5" height="35.0" fill="#58b9a0"/>
<rect x="854.20" y="408.0" width="1.1" height="25.3" fill="#8e68a6"/>
<rect x="853.50" y="410.3" width="2.5" height="15.1" fill="#a262bb"/>
<rect x="858.56" y="407.0" width="1.1" height="20.0" fill="#5e9e94"/>
<rect x="857.86" y="409.5" width="2.5" height="16.7" fill="#58b9a0"/>
<rect x="862.93" y="410.3" width="1.1" height="17.5" fill="#8e68a6"/>
<rect x="862.23" y="412.7" width="2.5" height="11.1" fill="#a262bb"/>
<rect x="867.29" y="422.2" width="1.1" height="49.2" fill="#8e68a6"/>
<rect x="866.59" y="423.8" width="2.5" height="42.9" fill="#a262bb"/>
<rect x="871.65" y="453.0" width="1.1" height="26.4" fill="#5e9e94"/>
<rect x="870.95" y="462.0" width="2.5" height="4.0" fill="#58b9a0"/>
<rect x="876.01" y="459.5" width="1.1" height="19.9" fill="#8e68a6"/>
<rect x="875.31" y="461.0" width="2.5" height="15.2" fill="#a262bb"/>
<rect x="880.38" y="458.7" width="1.1" height="35.0" fill="#5e9e94"/>
<rect x="879.67" y="463.5" width="2.5" height="12.7" fill="#58b9a0"/>
<rect x="884.74" y="451.6" width="1.1" height="16.7" fill="#8e68a6"/>
<rect x="884.04" y="463.5" width="2.5" height="4.0" fill="#a262bb"/>
<rect x="889.10" y="454.0" width="1.1" height="20.6" fill="#5e9e94"/>
<rect x="888.40" y="461.0" width="2.5" height="5.7" fill="#58b9a0"/>
<rect x="893.46" y="459.5" width="1.1" height="31.0" fill="#8e68a6"/>
<rect x="892.76" y="461.0" width="2.5" height="18.4" fill="#a262bb"/>
<rect x="897.83" y="471.4" width="1.1" height="42.9" fill="#5e9e94"/>
<rect x="897.12" y="473.0" width="2.5" height="6.4" fill="#58b9a0"/>
<rect x="902.19" y="454.0" width="1.1" height="33.3" fill="#5e9e94"/>
<rect x="901.49" y="461.0" width="2.5" height="13.6" fill="#58b9a0"/>
<rect x="906.55" y="448.4" width="1.1" height="26.2" fill="#5e9e94"/>
<rect x="905.85" y="454.0" width="2.5" height="8.0" fill="#58b9a0"/>
<rect x="910.91" y="452.4" width="1.1" height="27.1" fill="#8e68a6"/>
<rect x="910.21" y="454.0" width="2.5" height="25.4" fill="#a262bb"/>
<rect x="915.27" y="459.7" width="1.1" height="30.3" fill="#5e9e94"/>
<rect x="914.57" y="473.6" width="2.5" height="5.3" fill="#58b9a0"/>
<rect x="919.64" y="455.7" width="1.1" height="34.3" fill="#8e68a6"/>
<rect x="918.94" y="473.0" width="2.5" height="17.0" fill="#a262bb"/>
<rect x="924.00" y="470.3" width="1.1" height="19.7" fill="#5e9e94"/>
<rect x="923.30" y="471.6" width="2.5" height="17.2" fill="#58b9a0"/>
<rect x="928.36" y="455.7" width="1.1" height="38.3" fill="#5e9e94"/>
<rect x="927.66" y="479.5" width="2.5" height="10.5" fill="#58b9a0"/>
<rect x="932.73" y="450.4" width="1.1" height="32.5" fill="#5e9e94"/>
<rect x="932.02" y="455.7" width="2.5" height="25.2" fill="#58b9a0"/>
<rect x="937.09" y="446.5" width="1.1" height="37.0" fill="#8e68a6"/>
<rect x="936.39" y="457.0" width="2.5" height="23.2" fill="#a262bb"/>
<rect x="941.45" y="469.6" width="1.1" height="20.4" fill="#8e68a6"/>
<rect x="940.75" y="479.5" width="2.5" height="10.0" fill="#a262bb"/>
<rect x="945.81" y="475.6" width="1.1" height="18.4" fill="#8e68a6"/>
<rect x="945.11" y="488.0" width="2.5" height="3.5" fill="#a262bb"/>
<rect x="950.18" y="470.3" width="1.1" height="34.4" fill="#5e9e94"/>
<rect x="949.48" y="490.0" width="2.5" height="9.4" fill="#58b9a0"/>
<rect x="954.54" y="479.5" width="1.1" height="25.2" fill="#8e68a6"/>
<rect x="953.84" y="492.8" width="2.5" height="11.9" fill="#a262bb"/>
<rect x="958.90" y="465.7" width="1.1" height="40.3" fill="#5e9e94"/>
<rect x="958.20" y="467.0" width="2.5" height="23.0" fill="#58b9a0"/>
<rect x="963.26" y="465.7" width="1.1" height="24.3" fill="#8e68a6"/>
<rect x="962.56" y="467.0" width="2.5" height="10.0" fill="#a262bb"/>
<rect x="967.62" y="455.7" width="1.1" height="22.5" fill="#5e9e94"/>
<rect x="966.92" y="456.4" width="2.5" height="18.6" fill="#58b9a0"/>
<rect x="971.99" y="456.4" width="1.1" height="19.2" fill="#8e68a6"/>
<rect x="971.29" y="457.0" width="2.5" height="9.6" fill="#a262bb"/>
</g>
<rect x="105.1" y="491.3" width="923.3" height="21" fill="rgba(136,140,150,0.82)" stroke="rgba(152,156,166,0.75)" stroke-width="1"/>
<rect x="658.9" y="215" width="30" height="7.9" fill="rgba(195,165,210,0.6)"/>
<line x1="675.4" y1="192.3" x2="684.5" y2="207.4" stroke="#d0d3da" stroke-width="1.2"/>
<line x1="683.3" y1="228.9" x2="693.5" y2="245.6" stroke="#e0a0b0" stroke-width="0.8" stroke-dasharray="2 2"/>
<line x1="858.7" y1="407.9" x2="998.3" y2="494.6" stroke="#c9ccd3" stroke-width="1.15"/>
<rect x="1232" y="0" width="48" height="756" fill="#131722"/>
<rect x="0" y="731" width="1280" height="25" fill="#131722"/>
<line x1="1232.5" y1="0" x2="1232.5" y2="756" stroke="#2a2e39" stroke-width="1"/>
<line x1="0" y1="731.5" x2="1280" y2="731.5" stroke="#2a2e39" stroke-width="1"/>
<clipPath id="pc"><rect x="1233" y="0" width="47" height="731"/></clipPath>
<clipPath id="tc"><rect x="0" y="732" width="1232" height="24"/></clipPath>
<g font-size="9.6" fill="#b2b5be" stroke="#b2b5be" stroke-width="0.15" clip-path="url(#pc)" letter-spacing="-0.05">
<text x="1238.6" y="31.2">82.50</text>
<text x="1238.6" y="57.9">77.50</text>
<text x="1238.6" y="86.4">72.50</text>
<text x="1238.6" y="110.6">68.50</text>
<text x="1238.6" y="163.6">60.50</text>
<text x="1238.6" y="192.8">56.50</text>
<text x="1238.6" y="258.0">48.50</text>
<text x="1238.6" y="294.8">44.50</text>
<text x="1238.6" y="324.6">41.50</text>
<text x="1238.6" y="356.6">38.50</text>
<text x="1238.6" y="391.3">35.50</text>
<text x="1238.6" y="416.0">33.50</text>
<text x="1238.6" y="442.3">31.50</text>
<text x="1238.6" y="500.3">27.50</text>
<text x="1238.6" y="524.3">26.00</text>
<text x="1238.6" y="549.6">24.50</text>
<text x="1238.6" y="576.6">23.00</text>
<text x="1238.6" y="605.4">21.50</text>
<text x="1238.6" y="629.9">20.30</text>
<text x="1238.6" y="655.9">19.10</text>
<text x="1238.6" y="683.7">17.90</text>
<text x="1238.6" y="708.2">16.90</text>
<text x="1238.6" y="732.9">15.95</text>
</g>
<rect x="1232" y="122.0" width="34.5" height="13.4" fill="#22ab94"/>
<text x="1238.6" y="132.2" font-size="9.6" letter-spacing="-0.05" fill="#ffffff" stroke="#ffffff" stroke-width="0.25">65.19</text>
<rect x="1232" y="213.2" width="34.5" height="12.6" fill="#787b86"/>
<text x="1238.6" y="223.0" font-size="9.6" letter-spacing="-0.05" fill="#ffffff" stroke="#ffffff" stroke-width="0.25">52.21</text>
<rect x="1232" y="225.8" width="34.5" height="13.8" fill="#22ab94"/>
<text x="1238.6" y="236.2" font-size="9.6" letter-spacing="-0.05" fill="#ffffff" stroke="#ffffff" stroke-width="0.25">50.55</text>
<rect x="1232" y="239.6" width="34.5" height="14.3" fill="#f23645"/>
<text x="1238.6" y="250.2" font-size="9.6" letter-spacing="-0.05" fill="#ffffff" stroke="#ffffff" stroke-width="0.25">49.34</text>
<rect x="1232" y="503.1" width="34.5" height="12.9" fill="#787b86"/>
<text x="1238.6" y="513.0" font-size="9.6" letter-spacing="-0.05" fill="#ffffff" stroke="#ffffff" stroke-width="0.25">26.71</text>
<rect x="1232" y="546.4" width="34.5" height="13.2" fill="#f23645"/>
<text x="1238.6" y="556.5" font-size="9.6" letter-spacing="-0.05" fill="#ffffff" stroke="#ffffff" stroke-width="0.25">24.11</text>
<rect x="1232" y="460.5" width="48" height="24.4" fill="#a946c5"/>
<text x="1238.6" y="470.5" font-size="9.6" letter-spacing="-0.05" fill="#ffffff" stroke="#ffffff" stroke-width="0.2">29.48</text>
<text x="1238.6" y="481.5" font-size="9.6" letter-spacing="-0.05" fill="#ffffff" stroke="#ffffff" stroke-width="0.2">05:35:29</text>
<rect x="1233" y="0" width="47" height="26.2" fill="#131722"/>
<rect x="1235.7" y="1.6" width="43.4" height="19.8" rx="4" fill="#131722" stroke="#3a3e4a" stroke-width="1.1"/>
<text x="1238.8" y="15.1" font-size="9.5" fill="#d1d4dc" stroke="#d1d4dc" stroke-width="0.2" textLength="20.7" lengthAdjust="spacingAndGlyphs">USDT</text>
<path d="M1272.3 11 l1.7 1.7 l1.7 -1.7" fill="none" stroke="#d1d4dc" stroke-width="1.2"/>
<g font-size="9.6" fill="#b2b5be" stroke="#b2b5be" stroke-width="0.15" text-anchor="middle" clip-path="url(#tc)">
<text x="34.5" y="746">16</text>
<text x="104.5" y="746">Nov</text>
<text x="170.5" y="746">16</text>
<text x="235.5" y="746">Dec</text>
<text x="300.5" y="746">16</text>
<text x="371.5" y="746" font-weight="bold">2024</text>
<text x="436.5" y="746">16</text>
<text x="505.5" y="746">Feb</text>
<text x="632.5" y="746">Mar</text>
<text x="698.5" y="746">16</text>
<text x="767.5" y="746">Apr</text>
<text x="833.5" y="746">16</text>
<text x="898.5" y="746">May</text>
<text x="964.5" y="746">16</text>
<text x="1033.5" y="746">Jun</text>
<text x="1098.5" y="746">16</text>
<text x="1164.5" y="746">Jul</text>
<text x="1229.5" y="746">16</text>
</g>
<path d="M1252.3 743.3 L1255.2 738.4 H1260.8 L1263.7 743.3 L1260.8 748.2 H1255.2 Z" fill="none" stroke="#b2b5be" stroke-width="1.1" stroke-linejoin="round"/>
<circle cx="1258" cy="743.3" r="1.7" fill="none" stroke="#b2b5be" stroke-width="1"/>
<g>
<rect x="0" y="0" width="480" height="17" fill="#131722" opacity="0.85"/>
<defs><radialGradient id="kg" cx="0.62" cy="0.55" r="0.6"><stop offset="0" stop-color="#a8fff8"/><stop offset="0.45" stop-color="#3cc8bf"/><stop offset="1" stop-color="#0d3c3c" stop-opacity="0"/></radialGradient></defs>
<circle cx="12.5" cy="9" r="8" fill="#0c1016"/>
<ellipse cx="14" cy="7.8" rx="5.2" ry="4.6" fill="url(#kg)"/>
<path d="M5.6 15 Q8.2 11.6 12.4 10.6 Q11.6 13.6 8.2 14.8 Z" fill="#ececec"/>
<g font-size="11" fill="#d1d4dc" stroke="#d1d4dc" stroke-width="0.35">
<text x="21.6" y="15.5" textLength="23.2" lengthAdjust="spacingAndGlyphs">KSM</text>
<text x="49.6" y="15.5">/</text>
<text x="58.6" y="15.5" textLength="51.0" lengthAdjust="spacingAndGlyphs">TetherUS</text>
<text x="113.8" y="15.5" textLength="64.8" lengthAdjust="spacingAndGlyphs">PERPETUAL</text>
<text x="181.7" y="15.5" textLength="60.2" lengthAdjust="spacingAndGlyphs">CONTRACT</text>
<text x="247.2" y="15.5">·</text>
<text x="253.6" y="15.5" textLength="13.6" lengthAdjust="spacingAndGlyphs">1D</text>
<text x="271.6" y="15.5">·</text>
<text x="276.9" y="15.5" textLength="49.2" lengthAdjust="spacingAndGlyphs">BINANCE</text>
</g>
<text x="331.6" y="15" font-size="10" font-weight="bold" fill="#d1d4dc">O</text>
<text x="339.4" y="15" font-size="10" fill="#9c4cbc">30.15</text>
<text x="370.0" y="15" font-size="10" font-weight="bold" fill="#d1d4dc">H</text>
<text x="377.8" y="15" font-size="10" fill="#9c4cbc">30.19</text>
<text x="408.3" y="15" font-size="10" font-weight="bold" fill="#d1d4dc">L</text>
<text x="414.4" y="15" font-size="10" fill="#9c4cbc">28.64</text>
<text x="444.0" y="15" font-size="10" font-weight="bold" fill="#d1d4dc">C</text>
<text x="451.6" y="15" font-size="10" fill="#9c4cbc">29.48</text>
<rect x="4.6" y="22.6" width="24.2" height="15.8" rx="2.5" fill="#131722" stroke="#3a3e4a" stroke-width="1"/>
<path d="M9.4 29 l3.1 3 l3.1 -3" fill="none" stroke="#c4c7cf" stroke-width="1.3"/>
<text x="19.9" y="34.3" font-size="10" font-weight="bold" fill="#d1d4dc">2</text>
</g>
<g fill="#e4e2ee">
<path d="M6.1 709 h9.9 v12 h-5.3 v-7.4 h-4.6z"/>
<circle cx="19.7" cy="711.4" r="2.2"/>
<path d="M24.2 709 H30.2 L26.4 721 H20.1 Z"/>
<text x="36" y="721.3" font-size="16" font-weight="bold" textLength="96" lengthAdjust="spacingAndGlyphs">TradingView</text>
</g>
</svg></body></html>
